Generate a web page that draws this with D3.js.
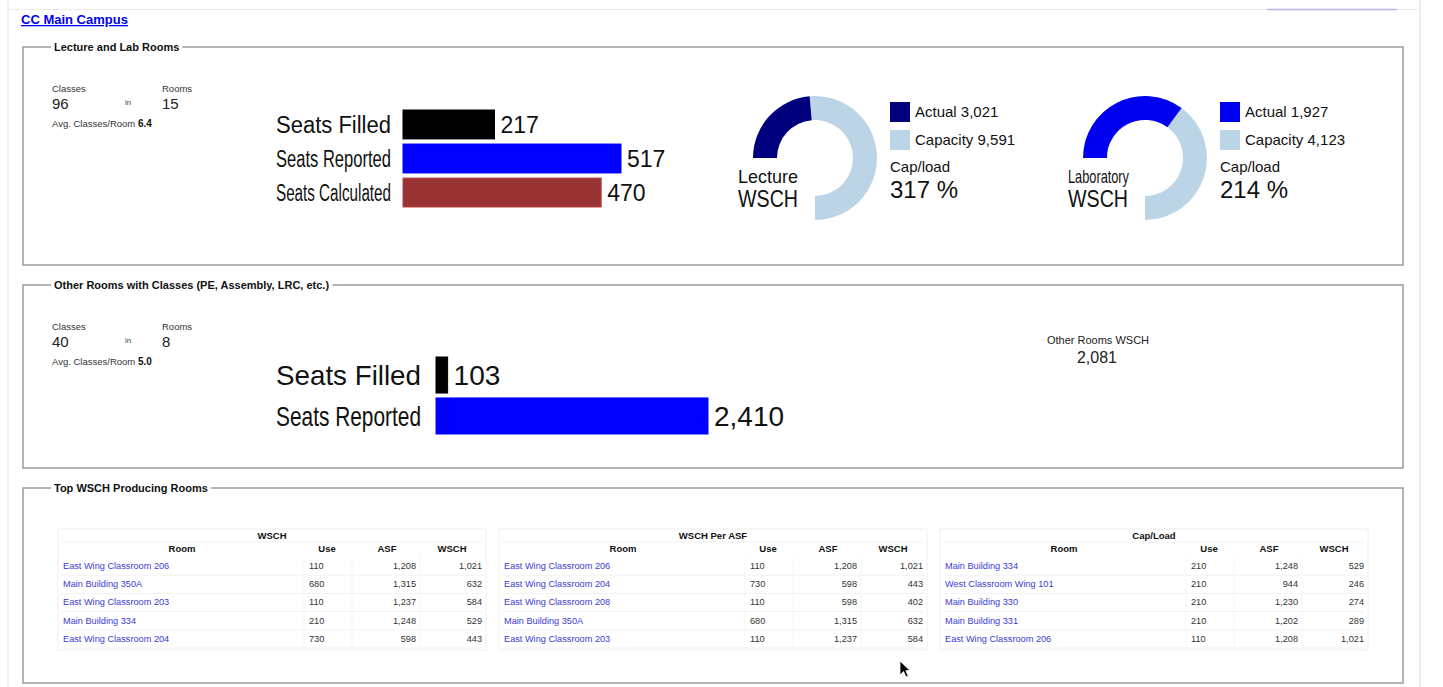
<!DOCTYPE html>
<html>
<head>
<meta charset="utf-8">
<script src="https://cdn.jsdelivr.net/npm/d3@7"></script>
<style>
  body { margin: 0; background: #fff; }
  svg { display: block; font-family: "Liberation Sans", Arial, sans-serif; }
</style>
</head>
<body>
<div id="viz"></div>
<script>
// ---- data ----
const campusName = 'CC Main Campus';
const panelTitles = ['Lecture and Lab Rooms', 'Other Rooms with Classes (PE, Assembly, LRC, etc.)', 'Top WSCH Producing Rooms'];

const lectureCounts = [96, 15, 6.4];   // classes, rooms, avg classes/room
const otherCounts = [40, 8, 5.0];

const lectureSeatLabels = ['Seats Filled', 'Seats Reported', 'Seats Calculated'];
const lectureSeatValues = [217, 517, 470];
const otherSeatLabels = ['Seats Filled', 'Seats Reported'];
const otherSeatValues = [103, 2410];
const seatColors = ['#000000', '#0000ff', '#993333'];

const gaugeNames = [['Lecture', 'WSCH'], ['Laboratory', 'WSCH']];
const gaugeActual = [3021, 1927];
const gaugeCapacity = [9591, 4123];
const gaugeCapLoad = [317, 214];
const gaugeColors = ['#00007f', '#0000f0'];

const otherWsch = 2081;

const tableTitles = ['WSCH', 'WSCH Per ASF', 'Cap/Load'];
const tableColumns = ['Room', 'Use', 'ASF', 'WSCH'];
const topByWsch = [
  ['East Wing Classroom 206', 110, 1208, 1021],
  ['Main Building 350A', 680, 1315, 632],
  ['East Wing Classroom 203', 110, 1237, 584],
  ['Main Building 334', 210, 1248, 529],
  ['East Wing Classroom 204', 730, 598, 443]
];
const topByWschPerAsf = [
  ['East Wing Classroom 206', 110, 1208, 1021],
  ['East Wing Classroom 204', 730, 598, 443],
  ['East Wing Classroom 208', 110, 598, 402],
  ['Main Building 350A', 680, 1315, 632],
  ['East Wing Classroom 203', 110, 1237, 584]
];
const topByCapLoad = [
  ['Main Building 334', 210, 1248, 529],
  ['West Classroom Wing 101', 210, 944, 246],
  ['Main Building 330', 210, 1230, 274],
  ['Main Building 331', 210, 1202, 289],
  ['East Wing Classroom 206', 110, 1208, 1021]
];
const tables = [topByWsch, topByWschPerAsf, topByCapLoad];

// ---- drawing ----
const w = 1443, h = 687;
const fmt = d3.format(',');

var svg = d3.select('#viz').append('svg')
  .attr('width', w)
  .attr('height', h);

// page frame
svg.append('line').attr('x1', 8).attr('x2', 8).attr('y1', 0).attr('y2', h).attr('stroke', '#e2e2e2');
svg.append('line').attr('x1', 1420).attr('x2', 1420).attr('y1', 0).attr('y2', h).attr('stroke', '#d8d8d8');
svg.append('line').attr('x1', 8).attr('x2', 1420).attr('y1', 9.5).attr('y2', 9.5).attr('stroke', '#ececec');
svg.append('line').attr('x1', 1267).attr('x2', 1397).attr('y1', 9.5).attr('y2', 9.5).attr('stroke', '#b4b4f0').attr('stroke-width', 1.5);

// campus link
svg.append('text')
  .attr('x', 21).attr('y', 24)
  .attr('font-size', 13).attr('font-weight', 'bold')
  .attr('fill', '#0000ee')
  .attr('text-decoration', 'underline')
  .text(campusName);

// fieldsets
var boxes = [[23, 47, 1403, 265], [23, 285, 1403, 468], [23, 488, 1403, 683]];
boxes.forEach(function(b, i) {
  svg.append('rect')
    .attr('x', b[0]).attr('y', b[1])
    .attr('width', b[2] - b[0]).attr('height', b[3] - b[1])
    .attr('fill', 'none').attr('stroke', '#9c9c9c').attr('stroke-width', 1.5);
  var g = svg.append('g');
  var bg = g.append('rect').attr('fill', '#fff');
  var t = g.append('text')
    .attr('x', 54).attr('y', b[1] + 4)
    .attr('font-size', 11).attr('font-weight', 'bold').attr('fill', '#111')
    .text(panelTitles[i]);
  var bb = t.node().getBBox();
  bg.attr('x', bb.x - 3).attr('y', b[1] - 3).attr('width', bb.width + 6).attr('height', 6);
});

// class / room counters
function counters(top, c) {
  var g = svg.append('g').attr('fill', '#222');
  g.append('text').attr('x', 52).attr('y', top + 45).attr('font-size', 9.5).attr('fill', '#333').text('Classes');
  g.append('text').attr('x', 162).attr('y', top + 45).attr('font-size', 9.5).attr('fill', '#333').text('Rooms');
  g.append('text').attr('x', 52).attr('y', top + 62).attr('font-size', 15).text(c[0]);
  g.append('text').attr('x', 125).attr('y', top + 58).attr('font-size', 8).attr('fill', '#444').text('in');
  g.append('text').attr('x', 162).attr('y', top + 62).attr('font-size', 15).text(c[1]);
  var a = g.append('text').attr('x', 52).attr('y', top + 80).attr('font-size', 9.5).attr('fill', '#333');
  a.append('tspan').text('Avg. Classes/Room ');
  a.append('tspan').attr('font-weight', 'bold').attr('fill', '#111').attr('font-size', 10).text(c[2].toFixed(1));
}
counters(47, lectureCounts);
counters(285, otherCounts);

// horizontal bar charts
function seatBars(labels, values, opt) {
  var y = d3.scaleBand().domain(labels).range(opt.yr).paddingInner(opt.pad);
  var x = d3.scaleLinear().domain([0, opt.max]).range([opt.x0, opt.x1]);
  var g = svg.append('g');
  g.selectAll('rect').data(values).enter().append('rect')
    .attr('x', x(0))
    .attr('y', (d, i) => y(labels[i]))
    .attr('width', d => x(d) - x(0))
    .attr('height', y.bandwidth())
    .attr('fill', (d, i) => seatColors[i])
    .attr('stroke', (d, i) => d3.color(seatColors[i]).brighter(i == 0 ? 3 : 0.6))
    .attr('stroke-width', 1);
  g.selectAll('.lbl').data(labels).enter().append('text')
    .attr('class', 'lbl')
    .attr('x', opt.lx)
    .attr('y', d => y(d) + y.bandwidth() / 2 + opt.fs * 0.36)
    .attr('font-size', opt.fs)
    .attr('fill', '#111')
    .attr('textLength', opt.lw)
    .attr('lengthAdjust', 'spacingAndGlyphs')
    .text(d => d);
  g.selectAll('.val').data(values).enter().append('text')
    .attr('class', 'val')
    .attr('x', d => x(d) + 6)
    .attr('y', (d, i) => y(labels[i]) + y.bandwidth() / 2 + opt.fs * 0.36)
    .attr('font-size', opt.fs)
    .attr('fill', '#111')
    .text(d => fmt(d));
}
seatBars(lectureSeatLabels, lectureSeatValues, {yr: [110, 207], pad: 0.15, max: 517, x0: 403, x1: 621, lx: 276, lw: 115, fs: 23});
seatBars(otherSeatLabels, otherSeatValues, {yr: [357, 434], pad: 0.12, max: 2410, x0: 436, x1: 708, lx: 276, lw: 145, fs: 28});

// WSCH gauges
var gaugeX = [815, 1145];
var arc = d3.arc().innerRadius(38).outerRadius(62);
gaugeActual.forEach(function(act, i) {
  var cap = gaugeCapacity[i];
  var ang = d3.scaleLinear().domain([0, cap]).range([-Math.PI / 2, Math.PI]);
  var g = svg.append('g').attr('transform', 'translate(' + gaugeX[i] + ',158)');
  g.append('path').attr('d', arc({startAngle: ang(act), endAngle: ang(cap)})).attr('fill', '#bcd5e6');
  g.append('path').attr('d', arc({startAngle: ang(0), endAngle: ang(act)})).attr('fill', gaugeColors[i]);
  var lx = gaugeX[i] - 77;
  svg.append('text').attr('x', lx).attr('y', 183).attr('font-size', 19).attr('fill', '#111')
    .attr('textLength', i == 0 ? 60 : 61).attr('lengthAdjust', 'spacingAndGlyphs').text(gaugeNames[i][0]);
  svg.append('text').attr('x', lx).attr('y', 207).attr('font-size', 24).attr('fill', '#111')
    .attr('textLength', 60).attr('lengthAdjust', 'spacingAndGlyphs').text(gaugeNames[i][1]);
  // legend
  var kx = gaugeX[i] + 75;
  var items = [['Actual', act, gaugeColors[i]], ['Capacity', cap, '#bcd5e6']];
  items.forEach(function(it, j) {
    svg.append('rect').attr('x', kx).attr('y', 102 + j * 28).attr('width', 20).attr('height', 20).attr('fill', it[2]);
    svg.append('text').attr('x', kx + 25).attr('y', 117 + j * 28).attr('font-size', 15).attr('fill', '#111')
      .text(it[0] + ' ' + fmt(it[1]));
  });
  svg.append('text').attr('x', kx).attr('y', 172).attr('font-size', 15).attr('fill', '#111').text('Cap/load');
  svg.append('text').attr('x', kx).attr('y', 198).attr('font-size', 24).attr('fill', '#111').text(gaugeCapLoad[i] + ' %');
});

// other rooms WSCH
svg.append('text').attr('x', 1098).attr('y', 344).attr('text-anchor', 'middle').attr('font-size', 11).attr('fill', '#222').text('Other Rooms WSCH');
svg.append('text').attr('x', 1097).attr('y', 363).attr('text-anchor', 'middle').attr('font-size', 16).attr('fill', '#222').text(fmt(otherWsch));

// tables
var tableX = [58, 499, 940];
var tw = 428;
var rowY = d3.scaleBand().domain(d3.range(5)).range([557, 648]);
tables.forEach(function(rows, i) {
  var tx = tableX[i];
  var g = svg.append('g').attr('transform', 'translate(' + tx + ',0)');
  g.append('rect').attr('x', 0).attr('y', 529).attr('width', tw).attr('height', 121)
    .attr('fill', 'none').attr('stroke', '#f0f0f0');
  g.append('line').attr('x1', 3).attr('x2', tw - 3).attr('y1', 542).attr('y2', 542).attr('stroke', '#f3f3f3');
  [246, 294, 362].forEach(function(vx) {
    g.append('line').attr('x1', vx).attr('x2', vx).attr('y1', 557).attr('y2', 648).attr('stroke', '#f5f5f5');
  });
  g.append('text').attr('x', tw / 2).attr('y', 539).attr('text-anchor', 'middle')
    .attr('font-size', 9.5).attr('font-weight', 'bold').attr('fill', '#111').text(tableTitles[i]);
  var hx = [124, 269, 329, 394];
  tableColumns.forEach(function(c, k) {
    g.append('text').attr('x', hx[k]).attr('y', 552).attr('text-anchor', 'middle')
      .attr('font-size', 9.5).attr('font-weight', 'bold').attr('fill', '#111').text(c);
  });
  rows.forEach(function(r, j) {
    var y0 = rowY(j);
    var by = y0 + 12;
    g.append('line').attr('x1', 3).attr('x2', tw - 3).attr('y1', y0 + rowY.bandwidth()).attr('y2', y0 + rowY.bandwidth()).attr('stroke', '#f2f2f2');
    g.append('text').attr('x', 5).attr('y', by).attr('font-size', 9.2).attr('fill', '#3b3bd0').text(r[0]);
    g.append('text').attr('x', 251).attr('y', by).attr('font-size', 9.2).attr('fill', '#333').text(r[1]);
    g.append('text').attr('x', 358).attr('y', by).attr('text-anchor', 'end').attr('font-size', 9.2).attr('fill', '#333').text(fmt(r[2]));
    g.append('text').attr('x', 424).attr('y', by).attr('text-anchor', 'end').attr('font-size', 9.2).attr('fill', '#333').text(fmt(r[3]));
  });
});

// mouse pointer
svg.append('path')
  .attr('transform', 'translate(900,661)')
  .attr('d', 'M0,0 L0,14 L3.5,10.5 L6,16 L8.2,15 L5.8,9.6 L10,9.6 Z')
  .attr('fill', '#000').attr('stroke', '#fff').attr('stroke-width', 0.8);
</script>
</body>
</html>
